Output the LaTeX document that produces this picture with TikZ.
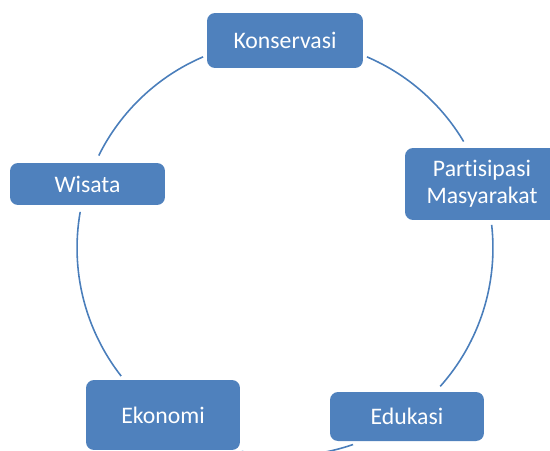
\documentclass[tikz,border=0pt]{standalone}
\usepackage{fontspec}
\setmainfont{Carlito}[Ligatures=NoCommon]
\definecolor{boxblue}{RGB}{79,129,189}
\definecolor{ringblue}{RGB}{74,126,187}

\begin{document}
\begin{tikzpicture}[x=0.02cm, y=0.02cm]
  \tikzset{
    cyclebox/.style={rectangle, rounded corners=0.16cm, fill=boxblue,
      text=white, align=center, inner sep=0pt,
      font=\fontsize{13.5}{15.5}\selectfont},
    ring/.style={ringblue, line width=0.9pt}
  }
  \useasboundingbox (0,0) rectangle (550,450);
  \clip (0,0) rectangle (550,450);

  % center of the ring
  \coordinate (o) at (285,202);

  % end points on the ring
  \path (o) ++(113.2:4.16cm) coordinate (kons-w);
  \path (o) ++(153.6:4.16cm) coordinate (wis-n);
  \path (o) ++(170:4.16cm)   coordinate (wis-s);
  \path (o) ++(258:4.16cm)   coordinate (eko-e);
  \path (o) ++(318.3:4.16cm) coordinate (edu-n);
  \path (o) ++(30.8:4.16cm)  coordinate (part-n);

  % ring
  \draw[ring] (kons-w) arc[start angle=113.2, end angle=153.6, radius=4.16cm];
  \draw[ring] (wis-s) arc[start angle=170, end angle=218, radius=4.16cm];
  \draw[ring] (eko-e) arc[start angle=258, end angle=289.1, radius=4.16cm];
  \draw[ring] (edu-n) arc[start angle=318.3, end angle=366.4, radius=4.16cm];
  \draw[ring] (part-n) arc[start angle=30.8, end angle=66.8, radius=4.16cm];

  % boxes
  \node[cyclebox, minimum width=3.12cm, minimum height=1.1cm] (kons) at (285,409.5) {Konservasi};
  \node[cyclebox, minimum width=3.08cm, minimum height=1.44cm] (part) at (482,266) {Partisipasi\\Masyarakat};
  \node[cyclebox, minimum width=3.08cm, minimum height=0.98cm] (edu) at (407,33.5) {Edukasi};
  \node[cyclebox, minimum width=3.08cm, minimum height=1.4cm] (eko) at (163,35) {Ekonomi};
  \node[cyclebox, minimum width=3.1cm, minimum height=0.84cm] (wis) at (87.5,266) {Wisata};
\end{tikzpicture}
\end{document}
